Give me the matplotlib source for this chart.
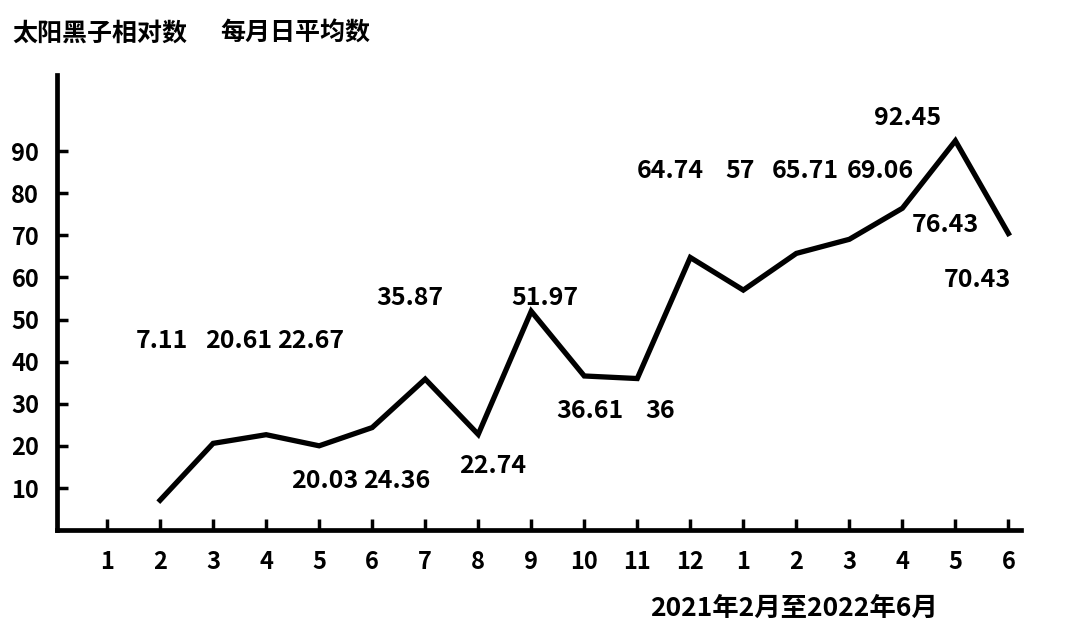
import matplotlib
matplotlib.use('Agg')
from matplotlib import pyplot as plt

plt.rcParams['font.family'] = ['Noto Sans CJK SC', 'DejaVu Sans']

# 2021年1月 ... 2022年6月
months = ['1', '2', '3', '4', '5', '6', '7', '8', '9', '10', '11', '12',
          '1', '2', '3', '4', '5', '6']
# 2021年2月起的每月日平均太阳黑子相对数
values = [7.11, 20.61, 22.67, 20.03, 24.36, 35.87, 22.74, 51.97, 36.61,
          36, 64.74, 57, 65.71, 69.06, 76.43, 92.45, 70.43]
value_labels = ['7.11', '20.61', '22.67', '20.03', '24.36', '35.87', '22.74',
                '51.97', '36.61', '36', '64.74', '57', '65.71', '69.06',
                '76.43', '92.45', '70.43']
# 标注文字的位置(数据坐标)
label_x = [1.04, 2.49, 3.83, 4.11, 5.47, 5.72, 7.28, 8.26, 9.11, 10.43,
           10.62, 11.94, 13.17, 14.58, 15.81, 15.09, 16.42]
label_y = [44.8, 44.8, 44.8, 11.7, 11.7, 55.2, 15.2, 55.2, 28.3, 28.3,
           85.2, 85.2, 85.2, 85.2, 72.4, 97.9, 59.3]
yticks = [10, 20, 30, 40, 50, 60, 70, 80, 90]

fig = plt.figure(figsize=(10.8, 6.38), dpi=100)
ax = fig.add_axes([0.053, 0.169, 0.892, 0.713])

xs = list(range(1, len(values) + 1))
ax.plot(xs, values, color='black', linewidth=3.8, solid_joinstyle='miter')

for x, y, t in zip(label_x, label_y, value_labels):
    ax.text(x, y, t, ha='center', va='center', fontsize=18, fontweight='bold')

ax.set_xlim(-0.94, 17.23)
ax.set_ylim(0, 108)

ax.set_xticks(range(len(months)))
ax.set_xticklabels(months)
ax.set_yticks(yticks)

for s in ['top', 'right']:
    ax.spines[s].set_visible(False)
for s in ['left', 'bottom']:
    ax.spines[s].set_linewidth(3.4)

ax.tick_params(axis='both', direction='in', length=8, width=2.5,
               labelsize=17, color='black')
ax.tick_params(axis='x', pad=14)
ax.tick_params(axis='y', pad=13)
for lab in ax.get_xticklabels() + ax.get_yticklabels():
    lab.set_fontweight('bold')

fig.text(0.011, 0.948, '太阳黑子相对数', fontsize=18, fontweight='bold', va='center')
fig.text(0.204, 0.948, '每月日平均数', fontsize=18, fontweight='bold', va='center')
fig.text(0.735, 0.046, '2021年2月至2022年6月', fontsize=19, fontweight='bold',
         ha='center', va='center')

fig.savefig('out.png', dpi=100)
